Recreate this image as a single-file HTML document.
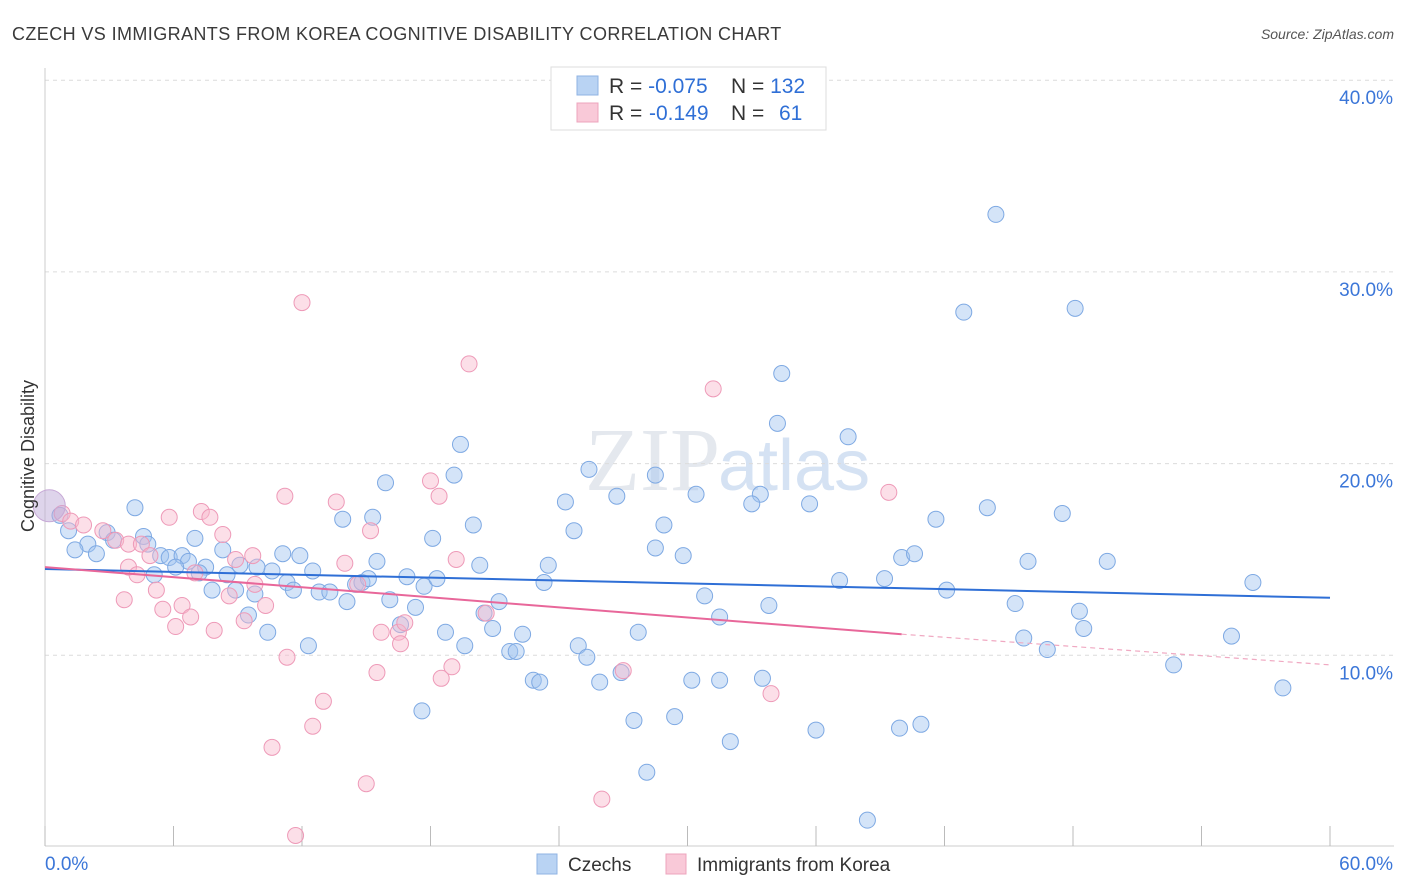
<!DOCTYPE html>
<html><head><meta charset="utf-8"><style>
body{margin:0;background:#fff;font-family:"Liberation Sans",sans-serif}
svg{display:block}
</style></head><body>
<svg id="chart" width="1406" height="892">
<text x="12" y="40" font-size="18" letter-spacing="0.4" fill="#3a3a3a">CZECH VS IMMIGRANTS FROM KOREA COGNITIVE DISABILITY CORRELATION CHART</text>
<text x="1394" y="39" font-size="14" font-style="italic" fill="#555" text-anchor="end">Source: ZipAtlas.com</text>
<text x="720" y="490" font-size="90" fill="#e4e8ee" text-anchor="end" font-family="Liberation Serif">ZIP</text>
<text x="718" y="490" font-size="72" fill="#d5e2f3">atlas</text>
<g id="grid"></g><g id="axes"></g><g id="pts"></g><g id="trend"></g>
<text transform="translate(34,456) rotate(-90)" font-size="18" fill="#333" text-anchor="middle">Cognitive Disability</text>
<g>
<rect x="551" y="67" width="275" height="63" fill="#fff" stroke="#ddd"/>
<rect x="577" y="76" width="21" height="19" fill="#b9d3f3" stroke="#8fb3e3"/>
<rect x="577" y="103" width="21" height="19" fill="#f9c9d8" stroke="#eda4bd"/>
<text x="609" y="93" font-size="21" fill="#333">R = <tspan fill="#2f6fd6">-0.075</tspan><tspan x="731">N = </tspan><tspan fill="#2f6fd6">132</tspan></text>
<text x="609" y="120" font-size="21" fill="#333">R = <tspan fill="#2f6fd6" x="649">-0.149</tspan><tspan x="731">N = </tspan><tspan fill="#2f6fd6" x="779">61</tspan></text>
</g>
<g>
<rect x="537" y="854" width="20" height="20" fill="#b9d3f3" stroke="#8fb3e3"/>
<text x="568" y="871" font-size="19" fill="#333">Czechs</text>
<rect x="666" y="854" width="20" height="20" fill="#f9c9d8" stroke="#eda4bd"/>
<text x="697" y="871" font-size="19" fill="#333">Immigrants from Korea</text>
</g>
</svg>
<script>
const xTicks=[0,60];
const yTicks=[10,20,30,40];
const czechX=[44.4,42.9,48.1,34.4,34.2,37.5,19.4,19.1,25.4,28.5,15.9,26.7,24.3,30.4,33.4,33.0,35.7,44.0,47.5,41.6,4.2,13.9,15.3,20.0,28.9,24.7,18.1,7.0,0.7,1.1,2.9,4.6,2.0,1.4,2.4,3.2,4.8,5.4,5.8,6.4,6.7,6.1,5.1,7.5,7.2,8.3,9.1,8.5,7.8,8.9,9.9,10.6,11.1,11.9,12.5,11.3,11.6,9.8,9.5,10.4,12.3,12.8,13.3,14.1,14.5,14.8,15.1,15.5,16.1,16.9,17.7,18.3,17.3,16.6,18.7,19.6,20.3,20.9,21.2,20.5,21.7,22.0,22.3,22.8,23.1,23.3,23.5,17.6,24.9,25.3,25.9,26.9,27.7,27.5,28.5,29.4,29.8,30.8,30.2,31.5,31.5,32.0,33.8,33.5,36.0,37.1,28.1,38.4,39.2,40.0,40.6,39.9,40.9,42.1,45.3,45.7,45.9,46.8,48.3,48.5,49.6,52.7,55.4,56.4,57.8];
const czechY=[33.0,27.9,28.1,24.7,22.1,21.4,21.0,19.4,19.7,19.4,19.0,18.3,18.0,18.4,18.4,17.9,17.9,17.7,17.4,17.1,17.7,17.1,17.2,16.8,16.8,16.5,16.1,16.1,17.3,16.5,16.4,16.2,15.8,15.5,15.3,16.0,15.8,15.2,15.1,15.2,14.9,14.6,14.2,14.6,14.3,15.5,14.7,14.2,13.4,13.4,14.6,14.4,15.3,15.2,14.4,13.8,13.4,13.2,12.1,11.2,10.5,13.3,13.3,12.8,13.7,13.8,14.0,14.9,12.9,14.1,13.6,14.0,12.5,11.6,11.2,10.5,14.7,11.4,12.8,12.2,10.2,10.2,11.1,8.7,8.6,13.8,14.7,7.1,10.5,9.9,8.6,9.1,11.2,6.6,15.6,6.8,15.2,13.1,8.7,8.7,12.0,5.5,12.6,8.8,6.1,13.9,3.9,1.4,14.0,15.1,15.3,6.2,6.4,13.4,12.7,10.9,14.9,10.3,12.3,11.4,14.9,9.5,11.0,13.8,8.3];
const koreaX=[12.0,19.8,31.2,39.4,18.0,18.4,11.2,13.6,7.3,7.7,5.8,8.3,0.8,1.2,1.8,2.7,3.3,3.9,4.5,4.9,3.9,4.3,3.7,5.2,5.5,6.1,6.4,6.8,7.0,7.9,8.6,8.9,9.7,9.3,10.3,9.8,11.3,10.6,11.7,12.5,13.0,14.0,15.2,14.6,15.0,15.5,15.7,16.5,16.6,16.8,18.5,19.0,19.2,20.6,26.0,27.0,33.9];
const koreaY=[28.4,25.2,23.9,18.5,19.1,18.3,18.3,18.0,17.5,17.2,17.2,16.3,17.4,17.0,16.8,16.5,16.0,15.8,15.8,15.2,14.6,14.2,12.9,13.4,12.4,11.5,12.6,12.0,14.3,11.3,13.1,15.0,15.2,11.8,12.6,13.7,9.9,5.2,0.6,6.3,7.6,14.8,16.5,13.7,3.3,9.1,11.2,11.2,10.6,11.7,8.8,9.4,15.0,12.2,2.5,9.2,8.0];
const czechTrend=[14.5,13.0];
const koreaTrend=[14.6,11.1,9.5];
const NS="http://www.w3.org/2000/svg";
const X=v=>45+v*(1285/60), Y=v=>847-v*19.17;
function mk(tag,attrs,parent){const e=document.createElementNS(NS,tag);for(const k in attrs)e.setAttribute(k,attrs[k]);document.getElementById(parent).appendChild(e);return e;}
yTicks.forEach(t=>{
 const l=mk('line',{x1:45,x2:1394,y1:Y(t),y2:Y(t),stroke:'#dcdcdc','stroke-dasharray':'4,4'},'grid');
 
 
 const tx=mk('text',{x:1393,y:Y(t)+24,'font-size':19,fill:'#3b76d8','text-anchor':'end'},'axes');tx.textContent=t.toFixed(1)+'%';
 
 
});
mk('line',{x1:45,x2:45,y1:68,y2:846,stroke:'#ccc'},'axes');
mk('line',{x1:45,x2:1394,y1:846,y2:846,stroke:'#ccc'},'axes');
for(let i=0;i<=10;i++){const x=X(i*6);const tk=mk('line',{x1:x,x2:x,y1:826,y2:846,stroke:'#bbb'},'axes');
 
 }
xTicks.forEach((t,i)=>{const tx=mk('text',{x:i?1393:45,y:870,'font-size':19,fill:'#3b76d8','text-anchor':i?'end':'start'},'axes');tx.textContent=t.toFixed(1)+'%';
 
 });
czechX.forEach((x,i)=>{const c=mk('circle',{cx:X(x),cy:Y(czechY[i]),r:8,fill:'rgba(160,195,240,0.45)',stroke:'#7ea9e3','stroke-width':1},'pts');
 
 });
koreaX.forEach((x,i)=>{const c=mk('circle',{cx:X(x),cy:Y(koreaY[i]),r:8,fill:'rgba(248,185,205,0.45)',stroke:'#ee9ab8','stroke-width':1},'pts');
 
 });
const big=mk('circle',{cx:X(0.2),cy:Y(17.8),r:16,fill:'rgba(190,170,215,0.5)',stroke:'#c7a9d6'},'pts');


const bl=mk('line',{x1:X(0),y1:Y(czechTrend[0]),x2:X(60),y2:Y(czechTrend[1]),stroke:'#2f6fd6','stroke-width':2},'trend');


const pl=mk('line',{x1:X(0),y1:Y(koreaTrend[0]),x2:X(40),y2:Y(koreaTrend[1]),stroke:'#e8679a','stroke-width':2},'trend');


const pd=mk('line',{x1:X(40),y1:Y(koreaTrend[1]),x2:X(60),y2:Y(koreaTrend[2]),stroke:'#f0a9c2','stroke-width':1.2,'stroke-dasharray':'5,4'},'trend');


</script>
</body></html>
